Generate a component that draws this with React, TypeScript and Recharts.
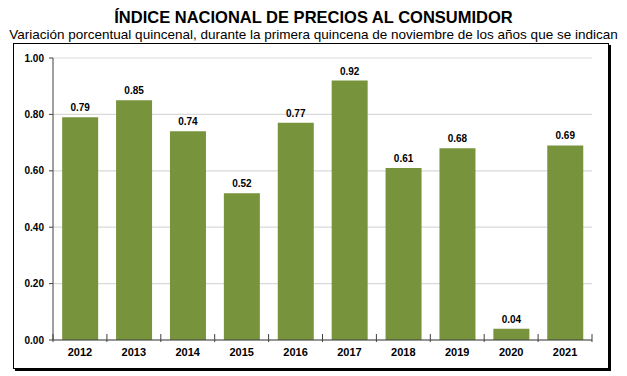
import React from "react";
import { BarChart, Bar, XAxis, YAxis, CartesianGrid, LabelList } from "recharts";

const years = ["2012", "2013", "2014", "2015", "2016", "2017", "2018", "2019", "2020", "2021"];
const values = [0.79, 0.85, 0.74, 0.52, 0.77, 0.92, 0.61, 0.68, 0.04, 0.69];
const yTicks = [0, 0.2, 0.4, 0.6, 0.8, 1.0];

const data = years.map((y, i) => ({ year: y, value: values[i] }));

const W = 627;
const H = 376;
const M = { top: 58, right: 35, bottom: 6, left: 13 };
const YW = 40;
const plotW = W - M.left - M.right - YW;
const half = plotW / years.length / 2;

const XTick = (props: any) => {
  const { x, y, payload, index } = props;
  const ay = y - 10;
  return (
    <g>
      <line x1={x - half} x2={x - half} y1={ay - 4} y2={ay + 4} stroke="#404040" strokeWidth={1} />
      {index === years.length - 1 && (
        <line x1={x + half} x2={x + half} y1={ay - 4} y2={ay + 4} stroke="#404040" strokeWidth={1} />
      )}
      <text x={x} y={y + 8} textAnchor="middle" fontFamily="Liberation Sans, Arial, sans-serif" fontWeight="bold" fontSize={11} fill="#000">
        {payload.value}
      </text>
    </g>
  );
};

export default function App() {
  return (
    <div style={{ position: "absolute", left: 0, top: 0, width: W, height: H, background: "#fff", fontFamily: "Liberation Sans, Arial, sans-serif" }}>
      <div style={{ position: "absolute", left: 0, top: 7, width: W, textAlign: "center", fontWeight: "bold", fontSize: 16.5, color: "#000", lineHeight: "20px" }}>
        ÍNDICE NACIONAL DE PRECIOS AL CONSUMIDOR
      </div>
      <div style={{ position: "absolute", left: 0, top: 27, width: W, textAlign: "center", fontSize: 13.5, color: "#000", lineHeight: "16px", whiteSpace: "nowrap" }}>
        Variación porcentual quincenal, durante la primera quincena de noviembre de los años que se indican
      </div>
      <div style={{ position: "absolute", left: 13, top: 43, width: 594, height: 324, border: "1px solid #000", boxShadow: "2px 2px 0 #000" }} />
      <div style={{ position: "absolute", left: 0, top: 0 }}>
        <BarChart width={W} height={H} data={data} margin={M} barCategoryGap="17%">
          <CartesianGrid vertical={false} stroke="#D9D9D9" strokeWidth={1.2} />
          <XAxis
            dataKey="year"
            tick={<XTick />}
            tickLine={false}
            axisLine={{ stroke: "#404040" }}
            height={30}
            interval={0}
          />
          <YAxis
            width={YW}
            domain={[0, 1]}
            ticks={yTicks}
            tickFormatter={(v: number) => v.toFixed(2)}
            tickSize={4}
            tickMargin={5}
            tickLine={{ stroke: "#404040" }}
            axisLine={{ stroke: "#404040" }}
            tick={{ fontFamily: "Liberation Sans, Arial, sans-serif", fontWeight: "bold", fontSize: 10, fill: "#000" }}
          />
          <Bar dataKey="value" fill="#77933C" isAnimationActive={false}>
            <LabelList
              dataKey="value"
              position="top"
              offset={6}
              formatter={(v: number) => v.toFixed(2)}
              style={{ fontFamily: "Liberation Sans, Arial, sans-serif", fontWeight: "bold", fontSize: 10, fill: "#000" }}
            />
          </Bar>
        </BarChart>
      </div>
    </div>
  );
}
